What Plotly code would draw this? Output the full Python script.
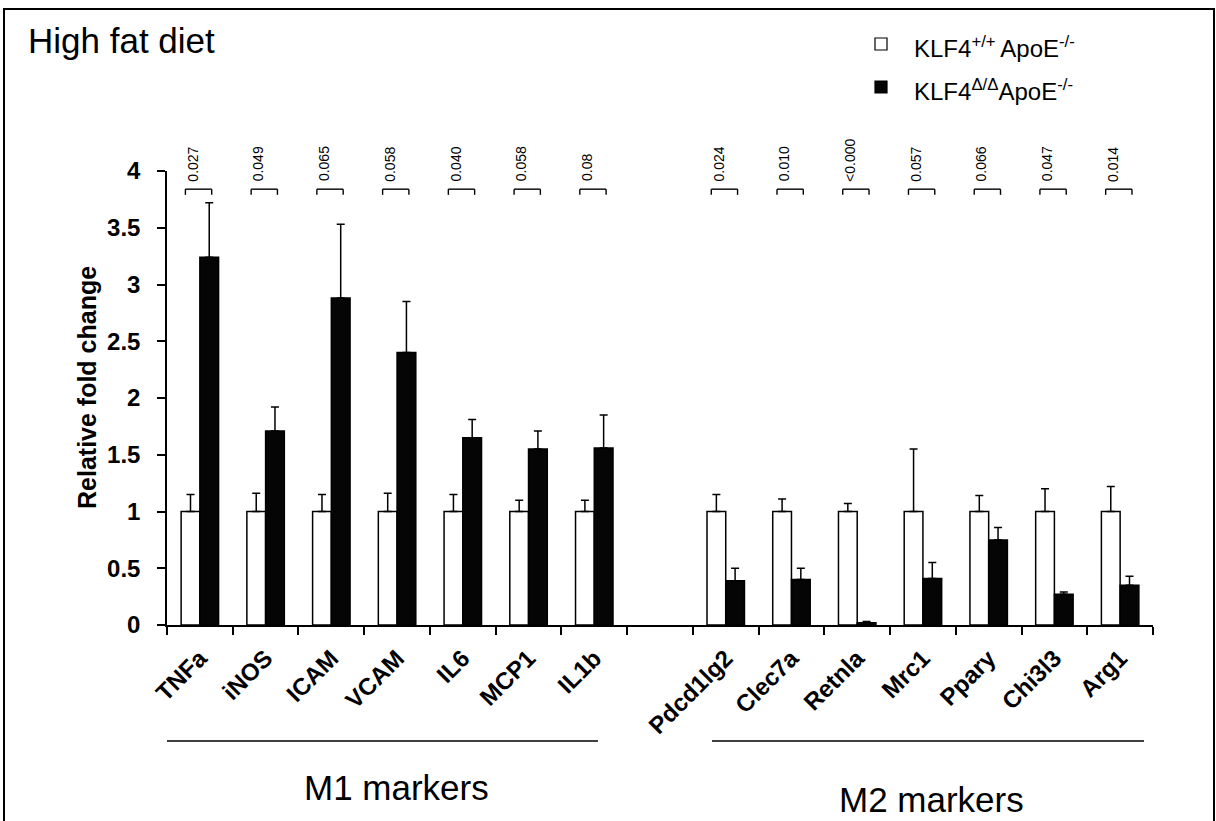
import plotly.graph_objects as go

# ---- data -------------------------------------------------------------
m1_genes = ["TNFa", "iNOS", "ICAM", "VCAM", "IL6", "MCP1", "IL1b"]
m2_genes = ["Pdcd1lg2", "Clec7a", "Retnla", "Mrc1", "Ppary", "Chi3l3", "Arg1"]

wt_m1 = [1, 1, 1, 1, 1, 1, 1]
wt_m1_err = [0.15, 0.16, 0.15, 0.16, 0.15, 0.10, 0.10]
ko_m1 = [3.24, 1.71, 2.88, 2.40, 1.65, 1.55, 1.56]
ko_m1_err = [0.48, 0.21, 0.65, 0.45, 0.16, 0.16, 0.29]

wt_m2 = [1, 1, 1, 1, 1, 1, 1]
wt_m2_err = [0.15, 0.11, 0.07, 0.55, 0.14, 0.20, 0.22]
ko_m2 = [0.39, 0.40, 0.02, 0.41, 0.75, 0.27, 0.35]
ko_m2_err = [0.11, 0.10, 0.01, 0.14, 0.11, 0.02, 0.08]

p_m1 = ["0.027", "0.049", "0.065", "0.058", "0.040", "0.058", "0.08"]
p_m2 = ["0.024", "0.010", "<0.000", "0.057", "0.066", "0.047", "0.014"]

y_ticks = [0, 0.5, 1, 1.5, 2, 2.5, 3, 3.5, 4]

# ---- layout helpers ----------------------------------------------------
W, H = 1216, 821
L, R, T, B = 167, 1153, 171, 625
FONT = "Arial, Liberation Sans, sans-serif"


def pxx(x):
    return (x - L) / (R - L)


def pxy(y):
    return (B - y) / (B - T)


GAP = " "
cats = m1_genes + [GAP] + m2_genes
wt = wt_m1 + [None] + wt_m2
wt_err = wt_m1_err + [0] + wt_m2_err
ko = ko_m1 + [None] + ko_m2
ko_err = ko_m1_err + [0] + ko_m2_err
pvals = p_m1 + [None] + p_m2

fig = go.Figure()
fig.add_trace(go.Bar(
    x=cats, y=wt, name="KLF4+/+ ApoE-/-",
    marker=dict(color="white", line=dict(color="black", width=1.5)),
    error_y=dict(type="data", array=wt_err, arrayminus=[0] * len(cats),
                 symmetric=False, color="black", thickness=1.5, width=4),
))
fig.add_trace(go.Bar(
    x=cats, y=ko, name="KLF4Δ/ΔApoE-/-",
    marker=dict(color="#050505", line=dict(color="black", width=1.5)),
    error_y=dict(type="data", array=ko_err, arrayminus=[0] * len(cats),
                 symmetric=False, color="black", thickness=1.5, width=4),
))

shapes = []
annotations = []

# significance brackets with p-values above each gene
br_top, br_leg, p_base = 3.84, 3.79, 3.89
for i, p in enumerate(pvals):
    if p is None:
        continue
    x0, x1 = i - 0.22, i + 0.18
    line = dict(color="black", width=1.4)
    shapes.append(dict(type="line", xref="x", yref="y", x0=x0, x1=x1,
                       y0=br_top, y1=br_top, line=line))
    shapes.append(dict(type="line", xref="x", yref="y", x0=x0, x1=x0,
                       y0=br_top, y1=br_leg, line=line))
    shapes.append(dict(type="line", xref="x", yref="y", x0=x1, x1=x1,
                       y0=br_top, y1=br_leg, line=line))
    annotations.append(dict(x=i - 0.11, y=p_base, xref="x", yref="y",
                            text=p, textangle=-90, showarrow=False,
                            xanchor="center", yanchor="bottom",
                            font=dict(family=FONT, size=14, color="black")))

# group underlines and labels
for x0, x1, label, lx, ly in [(167, 598, "M1 markers", 396, 787),
                              (712, 1144, "M2 markers", 931, 799)]:
    shapes.append(dict(type="line", xref="paper", yref="paper",
                       x0=pxx(x0), x1=pxx(x1), y0=pxy(741), y1=pxy(741),
                       line=dict(color="black", width=1.5)))
    annotations.append(dict(x=pxx(lx), y=pxy(ly), xref="paper", yref="paper",
                            text=label, showarrow=False, xanchor="center",
                            yanchor="middle",
                            font=dict(family=FONT, size=35, color="black")))

# panel title
annotations.append(dict(x=pxx(26), y=pxy(40), xref="paper", yref="paper",
                        text="High fat diet", showarrow=False,
                        xanchor="left", yanchor="middle",
                        font=dict(family=FONT, size=35, color="black")))

# y-axis title
annotations.append(dict(x=pxx(87), y=pxy(388), xref="paper", yref="paper",
                        text="Relative fold change", textangle=-90,
                        showarrow=False, xanchor="center", yanchor="middle",
                        font=dict(family=FONT, size=25, color="black",
                                  weight="bold")))

# legend
legend_items = [
    ("white", "KLF4<sup>+/+ </sup>ApoE<sup>-/-</sup>", 44),
    ("#050505", "KLF4<sup>Δ/Δ</sup>ApoE<sup>-/-</sup>", 87),
]
for fill, text, cy in legend_items:
    shapes.append(dict(type="rect", xref="paper", yref="paper",
                       x0=pxx(875), x1=pxx(887), y0=pxy(cy - 6), y1=pxy(cy + 6),
                       fillcolor=fill, line=dict(color="black", width=1.2)))
    annotations.append(dict(x=pxx(912), y=pxy(cy + 3), xref="paper",
                            yref="paper", text=text, showarrow=False,
                            xanchor="left", yanchor="middle",
                            font=dict(family=FONT, size=24, color="black")))

# outer frame
shapes.append(dict(type="path", xref="paper", yref="paper",
                   path=f"M {pxx(4)},{pxy(840)} L {pxx(4)},{pxy(9)} "
                        f"L {pxx(1214)},{pxy(9)} L {pxx(1214)},{pxy(840)}",
                   line=dict(color="black", width=2)))

fig.update_layout(
    width=W, height=H,
    margin=dict(l=L, r=W - R, t=T, b=H - B, pad=0),
    paper_bgcolor="white", plot_bgcolor="white",
    barmode="group", bargap=0.43, bargroupgap=0,
    showlegend=False,
    shapes=shapes, annotations=annotations,
    font=dict(family=FONT, color="black"),
)
fig.update_xaxes(
    type="category", categoryorder="array", categoryarray=cats,
    range=[-0.5, len(cats) - 0.5], tickson="boundaries",
    ticks="outside", ticklen=8, tickwidth=1.5, tickcolor="black",
    showline=True, linecolor="black", linewidth=1.5,
    showgrid=False, zeroline=False, tickangle=-45, ticklabelstandoff=8,
    tickfont=dict(family=FONT, size=24, color="black", weight="bold"),
)
fig.update_yaxes(
    range=[0, 4], tickvals=y_ticks, ticktext=[f"{v:g}" for v in y_ticks],
    ticks="outside", ticklen=8, tickwidth=1.5, tickcolor="black",
    showline=True, linecolor="black", linewidth=1.5,
    showgrid=False, zeroline=False, ticklabelstandoff=12,
    tickfont=dict(family=FONT, size=24, color="black", weight="bold"),
)

fig.write_html("out.html")
